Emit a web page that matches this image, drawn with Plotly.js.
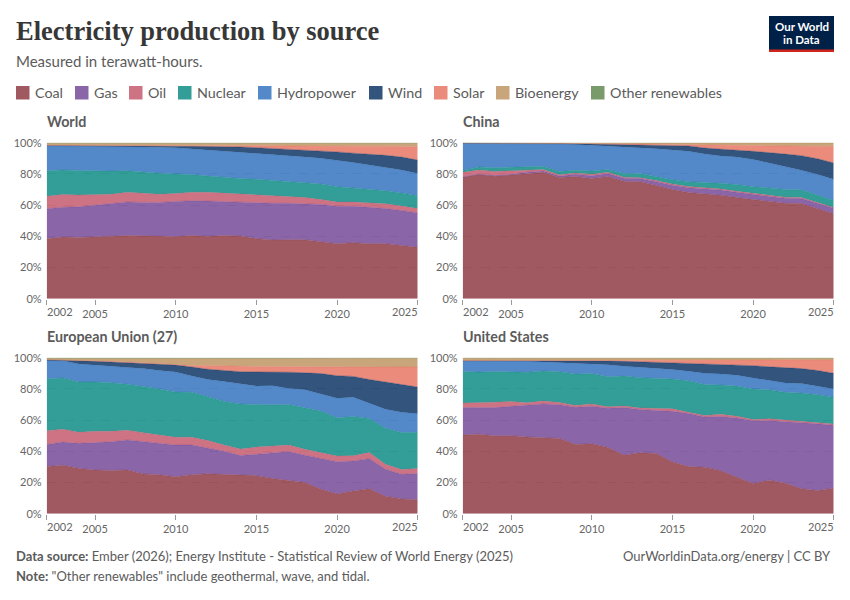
<!DOCTYPE html>
<html><head><meta charset="utf-8">
<script src="https://cdn.plot.ly/plotly-3.0.1.min.js"></script>
<style>html,body{margin:0;padding:0;background:#fff}#c{width:850px;height:600px}</style>
</head><body><div id="c"></div>
<script>
const years=[2002,2003,2004,2005,2006,2007,2008,2009,2010,2011,2012,2013,2014,2015,2016,2017,2018,2019,2020,2021,2022,2023,2024,2025];
const sources=["Coal","Gas","Oil","Nuclear","Hydropower","Wind","Solar","Bioenergy","Other renewables"];
const baseColors=["136,48,57","109,62,145","193,80,101","0,132,126","40,107,187","0,41,91","229,110,90","188,142,90","87,129,69"];

// Values: the upper edge (cumulative %) of each source's band
const worldCoal=[38.5,39.5,39.3,39.5,40,40.5,40.2,39.8,39.8,40.5,40,40.5,40.2,38.5,37.7,37.8,37.8,36.5,35.3,35.9,35.3,35.2,34.2,33];
const worldGas=[57.7,58.7,58.9,59.8,60.8,62,61.7,61.7,62.3,62.8,62.6,62.2,61.9,61.5,61.2,61.2,61,60.4,59.3,59.2,58.6,57.8,56.5,55];
const worldOil=[65.7,66.8,66.4,66.8,67,68.2,67.4,67,67.4,68.2,68.2,67.6,67.2,66.4,65.8,65.4,64.9,63.6,62,62,61.6,60.8,59.4,57.8];
const worldNuclear=[82,82.5,82.2,81.9,81.8,82,81,80.4,80,79.6,78.6,77.7,77.1,76.6,75.9,75.2,74.5,73.6,71.8,71,69.9,69.2,67.8,66];
const worldHydro=[98,97.9,97.9,97.8,97.7,97.6,97.3,97.1,96.7,96,95.4,94.6,94,93.4,92.6,91.6,90.9,90,88.8,87.3,85.7,84.1,82.5,80.3];
const worldWind=[98.2,98.2,98.2,98.2,98.2,98.1,98,97.9,97.8,97.7,97.6,97.4,97.2,96.8,96.3,95.7,95.3,94.9,94.1,93.3,92.7,91.9,90.8,88.9];
const worldSolar=[98.4,98.4,98.4,98.4,98.4,98.3,98.3,98.3,98.3,98.3,98.3,98.2,98.1,98,98,97.9,97.9,97.8,97.8,97.7,97.7,97.6,97.5,97.4];
const worldBio=[99.6,99.6,99.6,99.6,99.6,99.6,99.6,99.6,99.6,99.6,99.6,99.6,99.6,99.6,99.6,99.6,99.6,99.6,99.6,99.6,99.6,99.6,99.6,99.6];

const chinaCoal=[77.8,79.6,78.5,79.3,80.5,81,77.7,78.3,77,78.3,75.3,75,72.5,70,68,67,66.3,64.8,63.6,62.7,61.2,61,58,54.5];
const chinaGas=[78.1,79.9,78.9,79.7,81.1,81.8,78.6,79.8,78.8,80.2,77.2,77,75,72.8,71.2,70.5,69.7,68.2,67,66,64.4,64.2,61,58];
const chinaOil=[81,82.5,81.6,81.9,82.4,82.8,79.4,80.6,79.8,81,77.9,77.6,75.7,73.5,71.9,71.1,70.3,68.9,67.6,66.5,65,64.8,61.5,58.4];
const chinaNuclear=[82.2,84.5,84,84.1,84.6,84.8,81.5,82.4,81.8,82.8,80.3,80.2,78.2,76.3,75,74.7,74,73.2,71.8,71,70,69.8,66.5,63];
const chinaHydro=[99.7,99.6,99.7,99.7,99.7,99.6,99.1,98.8,98.3,97.9,97.4,96.8,96.2,95.4,94.5,92.8,91.5,90.8,89.3,87,84.8,82.3,79.6,76.5];
const chinaWind=[99.8,99.8,99.8,99.8,99.8,99.7,99.5,99.3,99.1,99,98.9,98.8,98.7,98.5,97.9,96.6,95.7,95.2,94.5,93.8,92.7,91.7,89.7,87];
const chinaSolar=[99.8,99.8,99.8,99.8,99.8,99.8,99.7,99.6,99.5,99.4,99.3,99.2,99.1,99,98.9,98.7,98.5,98.3,98.2,98,97.9,97.8,97.6,97.5];
const chinaBio=[99.95,99.95,99.95,99.95,99.95,99.95,99.95,99.95,99.95,99.95,99.95,99.95,99.95,99.95,99.95,99.95,99.95,99.95,99.95,99.95,99.95,99.95,99.95,99.95];

const euCoal=[30.3,31,29,28,27.7,28,25.5,25,23.7,25,25.6,25.2,24.5,24.4,22.6,21.5,20,15.7,12.6,14.5,16,11.2,9.5,8.9];
const euGas=[44.3,45.9,45.1,45.7,46.1,47.3,46.2,45.3,44,44,42,40,37.3,38.2,39,39.8,37.5,35.6,33.3,33.8,35.3,28.5,25.3,25.7];
const euOil=[53.2,54.2,52.2,52.8,52.9,53.5,51.9,50.6,49,49,46.9,44,41.5,42.7,43.2,44.1,41.3,39.2,37,37.2,39.2,31.7,28.4,28.9];
const euNuclear=[86.5,87,84.5,84.5,84,83,81.5,80,78,77.8,75,72,70.3,70,69.8,70,67.8,65.8,61.5,62.3,61,54.7,52,52.2];
const euHydro=[98,98,95.9,95,94.5,93.7,93,91.8,90.8,88.2,86,84.8,83.5,81.8,82,80.3,79.5,76.8,74,74.7,71,67,65,64];
const euWind=[98.7,98.5,98,97.7,97.3,96.9,96.4,95.9,95.3,94,92.6,91.8,91,90.9,90.9,90.7,90.3,89.8,88.5,88,86,84.2,82.8,81.2];
const euSolar=[98.7,98.5,98.1,97.9,97.7,97.2,96.9,96.3,95.6,95,95,94.7,94.6,94.3,94.3,94.2,94.2,94.3,93.9,93.9,93.9,94,94.1,94];
const euBio=[99.5,99.5,99.5,99.5,99.5,99.6,99.6,99.6,99.6,99.6,99.6,99.6,99.6,99.6,99.6,99.6,99.6,99.6,99.6,99.6,99.6,99.6,99.6,99.6];

const usCoal=[50.5,51,50,50,49.2,48.8,48.2,44.4,44.8,42.4,37.5,39,38.6,33.2,30.2,29.8,27.5,23.4,19.4,21.5,19.5,16,14.8,16.3];
const usGas=[68,67.8,68,68.8,69.6,70.4,69.9,68.2,68.9,67.6,68,66.8,66.2,65.6,64.2,62,62.3,61.3,59.6,59.7,59,58.4,57.6,56.7];
const usOil=[71,71.1,71.5,72,71.2,72.3,71.3,69.4,70.3,68.6,69,67.8,67.3,67.2,65,63,63.7,62.5,60.4,60.8,60,59.2,58.3,57.5];
const usNuclear=[91.2,90.8,91.2,91,90.6,91.5,91,89.6,89.8,87.8,88.2,87.2,86.8,86.3,85.2,82.8,82.5,81.8,80,79.4,77.8,77.3,76.2,74.7];
const usHydro=[97.8,97.8,97.7,97.7,97.7,97.3,96.8,96.3,95.8,95.5,94.5,93.8,93.2,92.5,91.3,90,89.6,88.8,87,85.5,83.8,83.4,81.9,80];
const usWind=[98.1,98.1,98.1,98.1,98.1,98.1,98.2,98.2,98.1,97.9,97.7,97.4,97.1,96.8,96.5,96,95.8,95.6,94.9,94.2,93.5,93,91.8,90];
const usSolar=[98.2,98.2,98.2,98.2,98.2,98.2,98.3,98.3,98.3,98.2,98.2,98.2,98.3,98.3,98.3,98.4,98.4,98.4,98.5,98.6,98.7,98.7,98.6,98.5];
const usBio=[99.6,99.6,99.6,99.6,99.6,99.6,99.6,99.6,99.6,99.6,99.6,99.6,99.6,99.6,99.6,99.6,99.6,99.6,99.6,99.6,99.6,99.6,99.6,99.6];

const tickYears=[2002,2005,2010,2015,2020,2025];
const yTicks=[0,20,40,60,80,100];
const legendX=[16,75,129,178,258,369,434,496,591];

const W=850,H=600;
const px=x=>x/W, py=y=>1-y/H;
const TXT="#5b5b5b", TICK="#666666", TICKSIZE=11;

const panels=[
 {name:"World",edges:[worldCoal,worldGas,worldOil,worldNuclear,worldHydro,worldWind,worldSolar,worldBio],l:46.7,t:142.7},
 {name:"China",edges:[chinaCoal,chinaGas,chinaOil,chinaNuclear,chinaHydro,chinaWind,chinaSolar,chinaBio],l:462.7,t:142.7},
 {name:"European Union (27)",edges:[euCoal,euGas,euOil,euNuclear,euHydro,euWind,euSolar,euBio],l:46.7,t:357.7},
 {name:"United States",edges:[usCoal,usGas,usOil,usNuclear,usHydro,usWind,usSolar,usBio],l:462.7,t:357.7}
];
const PW=371, PH=156;

const traces=[];
const layout={width:W,height:H,margin:{l:0,r:0,t:0,b:0},paper_bgcolor:"#fff",plot_bgcolor:"#fff",showlegend:false,
  font:{family:"Lato, sans-serif",color:TXT},shapes:[],annotations:[]};
const note=(x,y,text,o={})=>layout.annotations.push(Object.assign({xref:"paper",yref:"paper",x:px(x),y:py(y),text,showarrow:false,xanchor:"left",yanchor:"middle",align:"left",borderpad:0,borderwidth:0,font:{family:"Lato, sans-serif",size:14,color:TXT}},o));

panels.forEach((p,i)=>{
  const n=i+1, sfx=n===1?"":String(n);
  const edges=p.edges.concat([years.map(()=>100)]);
  edges.forEach((edge,k)=>{
    const share=edge.map((v,j)=>+(v-(k?edges[k-1][j]:0)).toFixed(2));
    traces.push({x:years,y:share,xaxis:"x"+sfx,yaxis:"y"+sfx,stackgroup:"s"+n,mode:"lines",name:sources[k],
      line:{width:0.5,color:"rgba("+baseColors[k]+",0.55)"},fillcolor:"rgba("+baseColors[k]+",0.8)",hoverinfo:"skip"});
  });
  layout["xaxis"+sfx]={domain:[px(p.l),px(p.l+PW)],range:[2002,2025],anchor:"y"+sfx,tickmode:"array",tickvals:tickYears,
    ticktext:tickYears.map(y=>(y===2002||y===2025)?"":String(y)),ticks:"outside",ticklen:5,tickwidth:1,tickcolor:"#999",
    showgrid:false,zeroline:false,showline:false,tickfont:{family:"Lato, sans-serif",size:TICKSIZE,color:TICK}};
  layout["yaxis"+sfx]={domain:[py(p.t+PH),py(p.t)],range:[0,100],anchor:"x"+sfx,tickmode:"array",tickvals:yTicks,
    ticktext:yTicks.map(v=>v+"%"),ticks:"",ticklabelstandoff:4,showline:false,zeroline:false,showgrid:true,gridcolor:"#dddddd",griddash:"dash",gridwidth:1,
    tickfont:{family:"Lato, sans-serif",size:TICKSIZE,color:TICK}};
  note(p.l,p.t-21,"<b>"+p.name+"</b>",{font:{family:"Lato, sans-serif",size:14.3,color:TXT}});
  const tf={family:"Lato, sans-serif",size:TICKSIZE,color:TICK};
  const ly=p.t+PH+12.3;
  layout.annotations.push({xref:"x"+sfx,yref:"paper",x:2002,y:py(ly),text:"2002",showarrow:false,xanchor:"left",yanchor:"middle",font:tf,borderpad:0,borderwidth:0});
  layout.annotations.push({xref:"x"+sfx,yref:"paper",x:2025,y:py(ly),text:"2025",showarrow:false,xanchor:"right",yanchor:"middle",font:tf,borderpad:0,borderwidth:0});
});

// header
note(16,31,"<b>Electricity production by source</b>",{font:{family:"Liberation Serif, serif",size:26.5,color:"#373737"}});
note(16,60.5,"Measured in terawatt-hours.",{font:{family:"Lato, sans-serif",size:15,color:TXT}});
// legend
sources.forEach((s,k)=>{
  layout.shapes.push({type:"rect",xref:"paper",yref:"paper",x0:px(legendX[k]),x1:px(legendX[k]+13.5),y0:py(99.5),y1:py(86),
    line:{width:0},fillcolor:"rgba("+baseColors[k]+",0.8)"});
  note(legendX[k]+19,92,s,{font:{family:"Lato, sans-serif",size:14.3,color:TXT}});
});
// logo
layout.shapes.push({type:"rect",xref:"paper",yref:"paper",x0:px(769),x1:px(834),y0:py(52),y1:py(16),line:{width:0},fillcolor:"#002147"});
layout.shapes.push({type:"rect",xref:"paper",yref:"paper",x0:px(769),x1:px(834),y0:py(52),y1:py(49.5),line:{width:0},fillcolor:"#ce261e"});
note(801.5,26,"<b>Our World</b>",{xanchor:"center",font:{family:"Lato, sans-serif",size:11.5,color:"#fff"}});
note(801.5,39.5,"<b>in Data</b>",{xanchor:"center",font:{family:"Lato, sans-serif",size:11.5,color:"#fff"}});
// footer
note(16,556,"<b>Data source:</b> Ember (2026); Energy Institute - Statistical Review of World Energy (2025)",{font:{family:"Lato, sans-serif",size:13,color:TXT}});
note(16,576,"<b>Note:</b> \"Other renewables\" include geothermal, wave, and tidal.",{font:{family:"Lato, sans-serif",size:13,color:TXT}});
note(831,556,"OurWorldinData.org/energy | CC BY",{xanchor:"right",font:{family:"Lato, sans-serif",size:13,color:TXT}});

Plotly.newPlot("c",traces,layout,{displayModeBar:false,responsive:false,staticPlot:true});
</script></body></html>
